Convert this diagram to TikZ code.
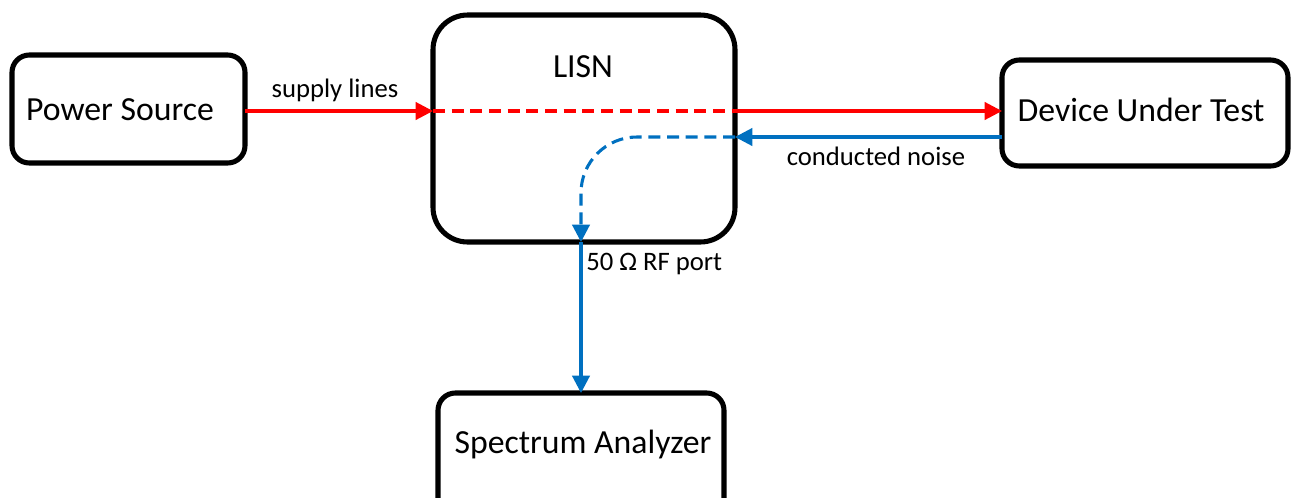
\documentclass[tikz,border=0pt]{standalone}
\usepackage{fontspec}
\setmainfont{Carlito}
\usetikzlibrary{arrows.meta}
\definecolor{nblue}{RGB}{0,112,192}
\tikzset{
  blk/.style={draw=black, line width=3.8pt, rounded corners=13pt, inner sep=0pt},
  lbl/.style={font=\fontsize{20}{24}\selectfont, inner sep=0pt},
  main/.style={font=\fontsize{25.3}{30}\selectfont, inner sep=0pt},
  wire/.style={line width=2.3pt},
  tip/.style={-{Triangle[length=13pt,width=13pt]}},
}
\begin{document}
\begin{tikzpicture}[x=0.75pt,y=-0.75pt]
\useasboundingbox (0,0) rectangle (1293,497);
\begin{scope}
\clip (0,0) rectangle (1293,497);
\draw[blk] (12,55) rectangle (245,163);
\draw[blk, rounded corners=26pt] (433,15) rectangle (735,242);
\draw[blk] (1002,60) rectangle (1288,166);
\draw[blk] (438,393) rectangle (724,520);
\end{scope}
\node[main] (ps) at (120,110) {Power Source};
\node[main] (lisn) at (583,67) {LISN};
\node[main] (dut) at (1141,110) {Device Under Test};
\node[main] (sa) at (583,444) {Spectrum Analyzer};
\coordinate (psr) at (245,111);
\coordinate (lisnl) at (433,111);
\coordinate (lisnr) at (735,111);
\coordinate (dutl) at (1002,111);
\coordinate (dutn) at (1002,137);
\coordinate (lisnn) at (735,137);
\coordinate (lisnb) at (581,242);
\coordinate (sat) at (581,393);
\draw[wire, red, tip] (psr) -- (lisnl);
\draw[wire, red, dash pattern=on 9pt off 5pt] (lisnl) -- (lisnr);
\draw[wire, red, tip] (lisnr) -- (dutl);
\draw[wire, nblue, tip] (dutn) -- (lisnn);
\draw[wire, nblue, tip, dash pattern=on 9pt off 5pt, rounded corners=42pt] (lisnn) -- (581,137) -- (lisnb);
\draw[wire, nblue, tip] (lisnb) -- (sat);
\node[lbl, anchor=base] (sl) at (335,97) {supply lines};
\node[lbl, anchor=base] (cn) at (876,165) {conducted noise};
\node[lbl, anchor=base west] (rf) at (586,270) {50 Ω RF port};
\end{tikzpicture}
\end{document}
